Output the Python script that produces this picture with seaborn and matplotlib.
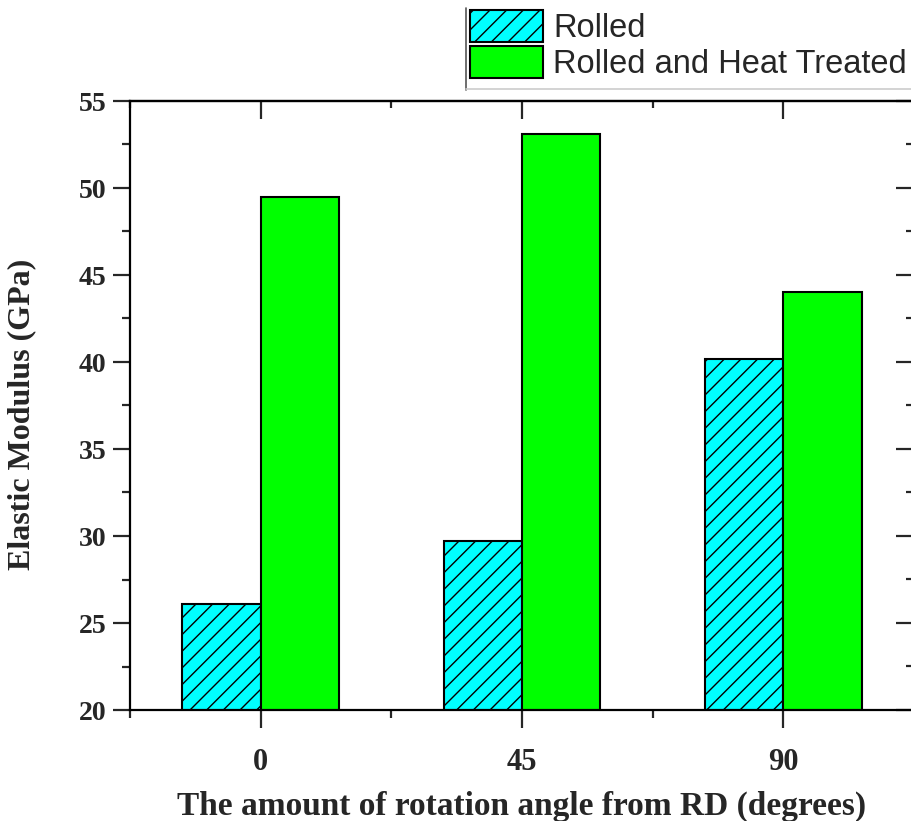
import matplotlib
matplotlib.use("Agg")
import matplotlib.pyplot as plt
from matplotlib.lines import Line2D
from matplotlib.ticker import MultipleLocator, FixedLocator
import seaborn as sns
import pandas as pd

angles = ["0", "45", "90"]
series = ["Rolled", "Rolled and Heat Treated"]
rolled = [26.1, 29.7, 40.2]
rolled_ht = [49.5, 53.1, 44.0]
colors = ["#00FFFF", "#00FF00"]

df = pd.DataFrame({
    "angle": angles * 2,
    "condition": [series[0]] * 3 + [series[1]] * 3,
    "modulus": rolled + rolled_ht,
})

sns.set_style("ticks")
plt.rcParams["hatch.linewidth"] = 1.0
plt.rcParams["hatch.color"] = "black"

serif = ["Liberation Serif", "DejaVu Serif"]
sans = ["Liberation Sans", "DejaVu Sans"]

fig = plt.figure(figsize=(9.11, 8.21), dpi=100)
ax = fig.add_axes([130 / 911, 111 / 821, (914 - 130) / 911, 609 / 821])

sns.barplot(data=df, x="angle", y="modulus", hue="condition",
            order=angles, hue_order=series, palette=colors,
            width=0.6, gap=0, edgecolor="black", linewidth=1.5,
            saturation=1, ax=ax, legend=False)

for bar in ax.containers[0]:
    bar.set_hatch("//")

ax.set_xlim(-0.5, 2.5)
ax.set_ylim(20, 55)

ax.yaxis.set_major_locator(MultipleLocator(5))
ax.yaxis.set_minor_locator(MultipleLocator(2.5))
ax.xaxis.set_minor_locator(FixedLocator([-0.5, 0.5, 1.5, 2.5]))

for sp in ax.spines.values():
    sp.set_linewidth(1.6)
    sp.set_color("black")

ax.tick_params(axis="x", which="major", direction="out", length=13, width=1.6, pad=14)
ax.tick_params(axis="x", which="minor", direction="out", length=6, width=1.6)
ax.tick_params(axis="y", which="major", direction="out", length=12, width=1.6, pad=5)
ax.tick_params(axis="y", which="minor", direction="out", length=6, width=1.6)

for lab in ax.get_xticklabels():
    lab.set_fontfamily(serif)
    lab.set_fontweight("bold")
    lab.set_fontsize(22)
for lab in ax.get_yticklabels():
    lab.set_fontfamily(serif)
    lab.set_fontweight("bold")
    lab.set_fontsize(20)

# mirrored inward ticks on top and right
top = ax.secondary_xaxis("top")
top.set_xticks([0, 1, 2])
top.xaxis.set_minor_locator(FixedLocator([-0.5, 0.5, 1.5, 2.5]))
top.set_xticklabels([])
top.tick_params(which="major", direction="in", length=13, width=1.6)
top.tick_params(which="minor", direction="in", length=5, width=1.6)
top.spines["top"].set_linewidth(1.6)

right = ax.secondary_yaxis("right")
right.yaxis.set_major_locator(MultipleLocator(5))
right.yaxis.set_minor_locator(MultipleLocator(2.5))
right.set_yticklabels([])
right.tick_params(which="major", direction="in", length=13, width=1.6)
right.tick_params(which="minor", direction="in", length=6, width=1.6)

ax.set_xlabel("The amount of rotation angle from RD (degrees)",
              fontfamily=serif, fontweight="bold", fontsize=24, labelpad=10)
ax.set_ylabel("Elastic Modulus (GPa)",
              fontfamily=serif, fontweight="bold", fontsize=23)
ax.yaxis.set_label_coords(-0.12, 0.486)

handles = [
    plt.Rectangle((0, 0), 1, 1, facecolor=colors[0], edgecolor="black",
                  linewidth=1.5, hatch="//"),
    plt.Rectangle((0, 0), 1, 1, facecolor=colors[1], edgecolor="black",
                  linewidth=1.5),
]
fig.legend(handles, series, loc="upper left",
           bbox_to_anchor=(470 / 911, 1 - 10 / 821),
           frameon=False, borderpad=0, borderaxespad=0,
           handlelength=2.24, handleheight=1.15, handletextpad=0.3,
           labelspacing=0.05,
           prop={"family": sans, "size": 23.5})

fig.add_artist(Line2D([466 / 911, 466 / 911], [1 - 8 / 821, 1 - 90 / 821],
                      color="#555555", linewidth=1.2, transform=fig.transFigure))
fig.add_artist(Line2D([466 / 911, 1.0], [1 - 89 / 821, 1 - 89 / 821],
                      color="#cccccc", linewidth=1.2, transform=fig.transFigure))

fig.savefig("out.png", dpi=100)
